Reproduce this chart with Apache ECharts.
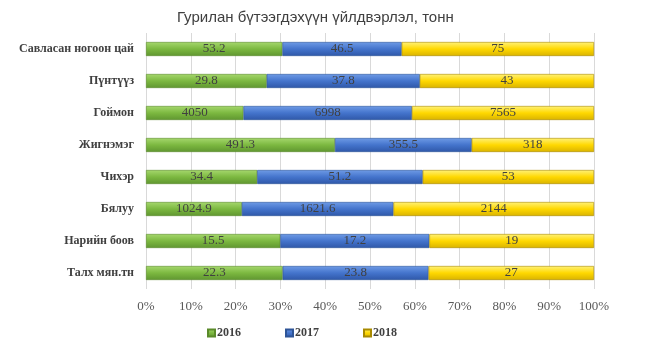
<!DOCTYPE html>
<html>
<head>
<meta charset="utf-8">
<script src="https://cdn.jsdelivr.net/npm/echarts@6/dist/echarts.min.js"></script>
<style>
    html, body { margin: 0; padding: 0; background: #fff; }
    #main { width: 654px; height: 354px; }
</style>
</head>
<body>
<div id="main"></div>
<script>
    // categories, top to bottom
    var categories = ['Савласан ногоон цай', 'Пүнтүүз', 'Гоймон', 'Жигнэмэг', 'Чихэр', 'Бялуу', 'Нарийн боов', 'Талх мян.тн']
    var years = ['2016', '2017', '2018']
    var v2016 = [53.2, 29.8, 4050, 491.3, 34.4, 1024.9, 15.5, 22.3]
    var v2017 = [46.5, 37.8, 6998, 355.5, 51.2, 1621.6, 17.2, 23.8]
    var v2018 = [75, 43, 7565, 318, 53, 2144, 19, 27]

    var raw = [v2016, v2017, v2018]
    var totals = categories.map(function (c, i) {
        return v2016[i] + v2017[i] + v2018[i]
    })

    //色
    var colors = [
        ['#a6d86e', '#7cb840', '#5f9630'],
        ['#6f9be6', '#4474cc', '#2f57a8'],
        ['#fff27a', '#ffd800', '#d9b300']
    ]
    var borders = ['#5a8a2a', '#2e5597', '#a88a00']

    var chart = echarts.init(document.getElementById('main'))

    var series = years.map(function (y, k) {
        return {
            name: y,
            type: 'bar',
            stack: 'total',
            barWidth: 14,
            itemStyle: {
                color: new echarts.graphic.LinearGradient(0, 0, 0, 1, [
                    {offset: 0, color: colors[k][0]},
                    {offset: 0.5, color: colors[k][1]},
                    {offset: 1, color: colors[k][2]}
                ]),
                borderColor: borders[k],
                borderWidth: 0.6
            },
            label: {
                show: true,
                position: 'inside',
                fontFamily: 'Liberation Serif',
                fontSize: 13,
                color: '#404040',
                formatter: function (p) {
                    return raw[k][p.dataIndex]
                }
            },
            data: raw[k].map(function (v, i) {
                return v / totals[i] * 100
            })
        }
    })

    chart.setOption({
        animation: false,
        title: {
            text: 'Гурилан бүтээгдэхүүн үйлдвэрлэл, тонн',
            left: 172,
            top: 5,
            textStyle: {
                fontFamily: 'Liberation Sans',
                fontSize: 15,
                fontWeight: 'normal',
                color: '#404040'
            }
        },
        legend: {
            data: years,
            left: 202,
            top: 322,
            itemWidth: 7,
            itemHeight: 7,
            itemGap: 44,
            icon: 'rect',
            textStyle: {
                fontFamily: 'Liberation Serif',
                fontSize: 12,
                fontWeight: 'bold',
                color: '#404040',
                padding: [0, 0, 0, -3]
            }
        },
        grid: {
            left: 146,
            right: 60,
            top: 33,
            bottom: 65
        },
        xAxis: {
            type: 'value',
            min: 0,
            max: 100,
            interval: 10,
            axisLine: {show: false},
            axisTick: {show: false},
            splitLine: {lineStyle: {color: '#d9d9d9'}},
            axisLabel: {
                formatter: '{value}%',
                fontFamily: 'Liberation Serif',
                fontSize: 13,
                color: '#595959',
                margin: 11
            }
        },
        yAxis: {
            type: 'category',
            inverse: true,
            data: categories,
            axisLine: {show: false},
            axisTick: {show: false},
            axisLabel: {
                fontFamily: 'Liberation Serif',
                fontSize: 12,
                fontWeight: 'bold',
                color: '#404040',
                margin: 12
            }
        },
        series: series
    })
</script>
</body>
</html>
